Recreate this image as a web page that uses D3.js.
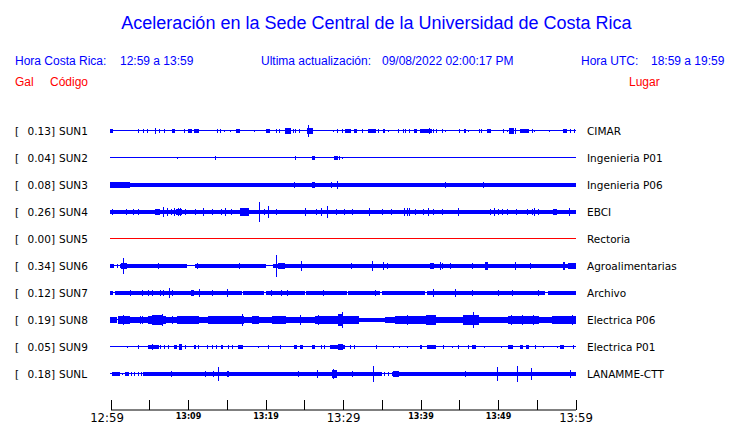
<!DOCTYPE html>
<html><head><meta charset="utf-8">
<script src="https://cdn.jsdelivr.net/npm/d3@7/dist/d3.min.js"></script>
<style>body{margin:0;background:#fff}svg{display:block}</style>
</head><body><svg id="c" width="740" height="423"></svg>
<script>
// ---------- data ----------
const codes  = ["SUN1","SUN2","SUN3","SUN4","SUN5","SUN6","SUN7","SUN8","SUN9","SUNL"];
const places = ["CIMAR","Ingenieria P01","Ingenieria P06","EBCI","Rectoria","Agroalimentarias","Archivo","Electrica P06","Electrica P01","LANAMME-CTT"];
const peaks  = [0.13,0.04,0.08,0.26,0.00,0.34,0.12,0.19,0.05,0.18];
const tickMinutes = [0,5,10,15,20,25,30,35,40,45,50,55,60];
const tickLabels  = {0:"12:59",10:"13:09",20:"13:19",30:"13:29",40:"13:39",50:"13:49",60:"13:59"};
const majorLabels = [0,30,60];

// each event: [minute start, minute end, half amplitude in gal]
const sun1 = [[0,0.26,.037],[3.66,3.66,.028],[4.22,4.22,.028],[4.82,4.82,.028],[5.85,5.85,.065],[6.37,6.37,.028],[6.92,6.92,.028],[7.96,8.26,.037],[9.55,9.55,.028],[10.06,10.49,.037],[10.8,11.44,.037],[13.85,13.85,.028],[14.15,14.15,.028],[14.71,14.71,.019],[15.48,15.48,.019],[16.3,16.73,.037],[18.62,18.62,.019],[20.13,20.56,.037],[21.46,21.46,.037],[21.81,21.81,.037],[22.58,23.31,.056],[23.57,23.57,.028],[23.91,23.91,.028],[24.39,24.39,.037],[25.46,26.19,.065],[25.59,25.59,.149],[28.73,28.73,.019],[29.33,29.33,.028],[29.98,29.98,.028],[30.32,30.32,.028],[30.49,31.05,.037],[31.53,31.83,.037],[32.56,32.56,.028],[33.33,34.28,.037],[34.62,34.62,.028],[35.27,35.48,.037],[35.83,35.83,.019],[37.2,37.2,.028],[37.76,37.76,.037],[38.06,38.06,.028],[38.58,38.58,.028],[39.27,39.57,.028],[40.0,41.42,.037],[41.16,41.16,.056],[41.72,41.72,.028],[42.02,42.02,.028],[42.8,42.8,.028],[43.23,43.23,.019],[45.08,45.08,.028],[45.63,45.89,.037],[46.24,46.24,.019],[47.61,47.61,.028],[47.91,47.91,.028],[48.65,49.12,.037],[50.75,50.75,.028],[51.27,51.27,.019],[51.53,52.04,.046],[52.3,52.3,.065],[52.9,54.06,.037],[54.41,54.41,.037],[54.67,54.67,.019],[56.69,56.69,.019],[58.45,58.84,.037],[59.35,59.35,.028],[59.83,59.83,.037]];
const sun2 = [[8.69,8.69,.019],[13.59,13.59,.037],[23.91,23.91,.037],[26.06,26.45,.037],[28.86,28.86,.028],[29.03,29.33,.037],[29.59,29.59,.028],[29.89,29.89,.019]];
const sun3 = [[0,60,.037],[0,2.5,.046],[23.78,23.78,.046],[26.06,26.37,.056],[28.47,28.47,.046],[29.33,29.33,.084],[43.27,43.27,.046],[48.17,48.17,.046]];
const sun4 = [[0,5.8,.028],[5.8,60,.037],[0.3,0.3,.046],[1.29,1.29,.037],[2.06,2.06,.046],[3.01,3.01,.046],[3.66,3.66,.046],[5.81,6.45,.065],[6.88,6.88,.12],[7.4,7.4,.093],[7.83,7.83,.056],[8.3,8.3,.074],[8.52,9.25,.065],[8.73,8.73,.083],[9.03,9.03,.074],[9.68,9.68,.056],[10.97,10.97,.046],[11.96,11.96,.093],[13.12,13.12,.056],[14.32,14.32,.056],[14.84,14.84,.074],[15.61,15.61,.056],[16.77,17.85,.074],[17.63,17.63,.093],[19.27,19.27,.26],[19.91,19.91,.056],[20.34,20.34,.149],[21.42,21.42,.065],[25.16,25.16,.093],[26.62,26.62,.065],[27.18,27.18,.074],[27.96,27.96,.149],[29.2,29.2,.065],[30.15,30.15,.056],[31.27,31.27,.056],[33.46,33.46,.084],[35.05,35.05,.056],[36.26,36.26,.065],[37.98,37.98,.084],[38.28,38.28,.074],[38.58,38.58,.074],[39.35,39.35,.046],[40.43,40.43,.056],[41.08,41.08,.074],[41.72,41.72,.056],[42.88,42.88,.056],[44.86,44.86,.074],[49.03,49.03,.065],[49.59,49.59,.084],[50.11,50.11,.065],[50.62,50.62,.056],[51.27,51.27,.065],[52.34,52.34,.056],[53.76,53.76,.065],[54.41,54.41,.065],[54.71,54.71,.074],[55.27,55.27,.065],[57.2,57.63,.056],[59.23,59.23,.093]];
const sun5 = [];
const sun6 = [[0,0.3,.028],[1.3,4.95,.037],[4.95,9.9,.028],[11.0,20.0,.037],[21.07,60,.037],[0.43,0.43,.028],[0.86,0.86,.028],[1.4,2.15,.046],[1.72,1.72,.19],[6.24,6.24,.056],[11.18,11.18,.056],[16.69,16.69,.056],[21.46,21.46,.32],[21.72,22.58,.056],[24.69,24.69,.11],[31.05,31.05,.046],[33.85,33.85,.12],[35.27,35.27,.074],[35.7,35.7,.065],[41.29,41.72,.046],[42.58,42.58,.074],[42.8,42.8,.056],[43.87,43.87,.046],[46.67,46.67,.056],[48.39,48.69,.074],[52.26,52.26,.084],[54.19,54.19,.046],[58.49,58.7,.093],[59.14,60,.046]];
const sun7 = [[0,0.35,.037],[0.65,16.99,.037],[17.2,19.85,.037],[20.1,25.1,.037],[25.3,30.5,.037],[30.75,34.8,.037],[35.1,40.6,.037],[40.9,56.1,.037],[56.5,60,.037],[2.58,2.58,.046],[3.44,3.44,.037],[4.17,4.17,.046],[4.86,4.86,.046],[5.38,5.38,.056],[6.45,6.45,.046],[6.88,6.88,.056],[7.61,7.61,.12],[7.96,7.96,.056],[10.45,10.75,.065],[11.53,11.53,.084],[13.12,13.12,.065],[15.05,15.05,.074],[20.77,20.77,.046],[22.02,22.02,.046],[22.8,22.8,.046],[23.78,23.78,.037],[27.53,27.53,.046],[34.19,34.19,.046],[37.85,37.85,.037],[41.72,41.72,.084],[44.52,44.52,.093],[46.67,46.67,.046],[50.11,50.11,.056],[51.91,51.91,.056],[55.27,55.27,.046],[59.35,59.35,.037]];
const sun8 = [[0,0.86,.056],[1.08,2.58,.084],[1.72,1.72,.11],[2.58,3.66,.056],[3.66,4.95,.065],[3.87,3.87,.093],[4.17,4.17,.084],[4.95,7.1,.084],[5.37,6.8,.11],[6.75,6.75,.149],[7.1,8.6,.065],[7.96,7.96,.093],[8.6,11.4,.074],[9.68,9.68,.093],[10.54,10.54,.084],[11.4,11.8,.056],[11.8,12.7,.056],[12.7,13.55,.074],[13.55,17.2,.074],[15.7,15.7,.093],[16.99,16.99,.13],[17.2,18.3,.056],[18.3,19.1,.084],[19.1,20.9,.046],[20.9,22.6,.074],[21.5,21.5,.093],[22.6,24.3,.056],[24.5,24.5,.102],[24.3,25.16,.056],[24.95,24.95,.065],[25.16,26.45,.046],[26.45,29.5,.084],[26.88,26.88,.11],[27.74,27.74,.093],[29.46,30.0,.149],[29.9,29.9,.186],[30.0,32.05,.084],[32.05,35.5,.037],[35.5,36.8,.065],[36.8,39.8,.074],[38.28,38.28,.11],[39.14,39.14,.093],[39.8,42.0,.093],[40.73,42.0,.11],[42.0,45.6,.046],[45.6,47.5,.102],[46.88,46.88,.186],[47.5,51.4,.056],[51.4,55.3,.084],[51.8,51.8,.11],[53.1,53.1,.12],[54.6,54.6,.102],[55.3,57.0,.056],[57.0,60,.074],[59.14,59.14,.093],[59.57,59.57,.11]];
const sun9 = [[2.24,2.24,.019],[3.66,3.66,.028],[4.86,6.24,.037],[5.46,5.46,.046],[6.45,6.45,.037],[6.92,6.92,.037],[7.53,7.53,.028],[8.26,8.6,.037],[8.95,9.25,.046],[9.68,9.68,.028],[10.84,11.05,.037],[11.4,11.4,.028],[12.47,12.47,.028],[13.12,13.12,.037],[13.68,13.68,.028],[14.32,14.49,.037],[15.18,15.18,.028],[15.78,15.78,.028],[16.47,17.08,.037],[19.05,19.05,.019],[20.43,20.43,.028],[21.98,21.98,.028],[23.74,24.09,.037],[24.52,24.82,.037],[26.02,26.45,.037],[27.18,27.18,.028],[27.66,27.66,.028],[28.43,30.32,.037],[29.46,29.98,.065],[30.97,30.97,.028],[31.44,31.44,.028],[34.28,34.28,.028],[36.56,36.56,.019],[37.33,37.33,.019],[38.37,38.37,.019],[40.0,40.22,.028],[40.86,41.94,.037],[43.01,43.01,.028],[44.09,44.09,.019],[44.95,44.95,.028],[46.15,46.15,.037],[46.67,47.1,.037],[48.22,48.22,.019],[50.41,50.41,.019],[51.4,51.91,.028],[52.95,53.2,.037],[53.63,54.06,.037],[54.84,54.84,.028],[55.91,55.91,.019],[57.63,57.63,.019],[58.06,58.49,.037],[59.78,59.78,.028]];
const sunL = [[0.22,1.29,.037],[1.94,2.37,.028],[4.3,35.05,.037],[36.4,60,.037],[1.59,1.59,.019],[2.71,2.71,.028],[3.14,3.14,.028],[3.57,3.57,.028],[4.0,4.0,.028],[7.83,7.83,.056],[12.26,12.26,.046],[13.33,13.33,.046],[13.98,13.98,.167],[15.05,15.35,.065],[24.3,24.3,.056],[26.67,26.67,.074],[28.6,29.25,.074],[28.82,28.82,.11],[31.18,31.18,.056],[33.98,33.98,.186],[35.4,35.4,.028],[35.9,35.9,.028],[36.56,37.2,.056],[45.8,45.8,.046],[49.89,49.89,.167],[52.47,52.47,.186],[54.37,54.37,.14],[59.35,59.35,.074]];
const traces = [sun1,sun2,sun3,sun4,sun5,sun6,sun7,sun8,sun9,sunL];

// ---------- drawing ----------
const svg = d3.select("#c");
const BLUE = "#0000ff", RED = "#ff0000";
// a station reporting no signal (peak 0.00) is drawn in red
const colorOf = i => peaks[i] === 0 ? RED : BLUE;

const x = d3.scaleLinear().domain([0,60]).range([110.5, 575.5]);
const row = d3.scaleBand().domain(codes).range([117, 387]);
const amp = d3.scalePow().exponent(0.77).domain([0,1]).range([0,27.6]);
const yc = c => row(c) + row.bandwidth()/2;

// titles
svg.append("text").attr("x",376.5).attr("y",29).attr("text-anchor","middle")
  .style("font-family","Liberation Sans, Arial, sans-serif").style("font-size","18px").attr("fill",BLUE)
  .text("Aceleración en la Sede Central de la Universidad de Costa Rica");

const hdr = [
  {t:"Hora Costa Rica:", x:15, y:65, c:BLUE},
  {t:"12:59 a 13:59", x:120, y:65, c:BLUE},
  {t:"Ultima actualización:", x:261, y:65, c:BLUE},
  {t:"09/08/2022 02:00:17 PM", x:382, y:65, c:BLUE},
  {t:"Hora UTC:", x:581, y:65, c:BLUE},
  {t:"18:59 a 19:59", x:651, y:65, c:BLUE},
  {t:"Gal", x:15, y:86, c:RED},
  {t:"Código", x:50, y:86, c:RED},
  {t:"Lugar", x:629, y:86, c:RED}
];
svg.selectAll("text.hdr").data(hdr).join("text").attr("class","hdr")
  .attr("x",d=>d.x).attr("y",d=>d.y).attr("fill",d=>d.c)
  .style("font-family","Liberation Sans, Arial, sans-serif").style("font-size","12px")
  .text(d=>d.t);

// row labels
const lab = svg.append("g").style("font-family","DejaVu Sans, sans-serif").style("font-size","10.5px").attr("fill","#000");
codes.forEach((c,i)=>{
  const y = yc(c)+4;
  lab.append("text").attr("x",15).attr("y",y).text("[");
  lab.append("text").attr("x",55).attr("y",y).attr("text-anchor","end").text(peaks[i].toFixed(2)+"]");
  lab.append("text").attr("x",59).attr("y",y).text(c);
  lab.append("text").attr("x",587).attr("y",y).text(places[i]);
});

// traces
const tg = svg.append("g").attr("shape-rendering","crispEdges");
codes.forEach((c,i)=>{
  const col = colorOf(i);
  const cy = yc(c);
  tg.append("rect").attr("x",Math.floor(x(0))).attr("width",Math.round(x(60)-x(0))+1)
    .attr("y",Math.floor(cy)).attr("height",1).attr("fill",col);
  tg.selectAll(null).data(traces[i]).join("rect")
    .attr("x",d=>Math.floor(x(d[0])))
    .attr("width",d=>Math.max(1, Math.round(x(d[1]) - Math.floor(x(d[0])))))
    .attr("y",d=>Math.round(cy+0.5 - amp(d[2])))
    .attr("height",d=>Math.max(1, Math.round(cy+0.5 + amp(d[2])) - Math.round(cy+0.5 - amp(d[2]))))
    .attr("fill",col);
});

// time axis
const axis = d3.axisBottom(x).tickValues(tickMinutes).tickSizeInner(-10).tickSizeOuter(0).tickPadding(0)
  .tickFormat(m => tickLabels[m] || "");
const ag = svg.append("g").attr("transform","translate(0,409.5)").call(axis);
ag.select(".domain").attr("stroke","#000").attr("stroke-width",1);
ag.selectAll(".tick line").attr("stroke","#000").attr("shape-rendering","crispEdges");
ag.selectAll(".tick text").attr("fill","#000")
  .attr("dy", null)
  .attr("y", m => majorLabels.includes(m) ? 12 : 9.5)
  .attr("dx", m => m === 0 ? -4 : 0)
  .style("font-family", m => majorLabels.includes(m) ? "Liberation Sans Narrow, DejaVu Sans Condensed, sans-serif" : "DejaVu Sans, sans-serif")
  .style("font-size", m => majorLabels.includes(m) ? "13px" : "8px")
  .style("font-weight", m => majorLabels.includes(m) ? "normal" : "bold");
</script></body></html>
